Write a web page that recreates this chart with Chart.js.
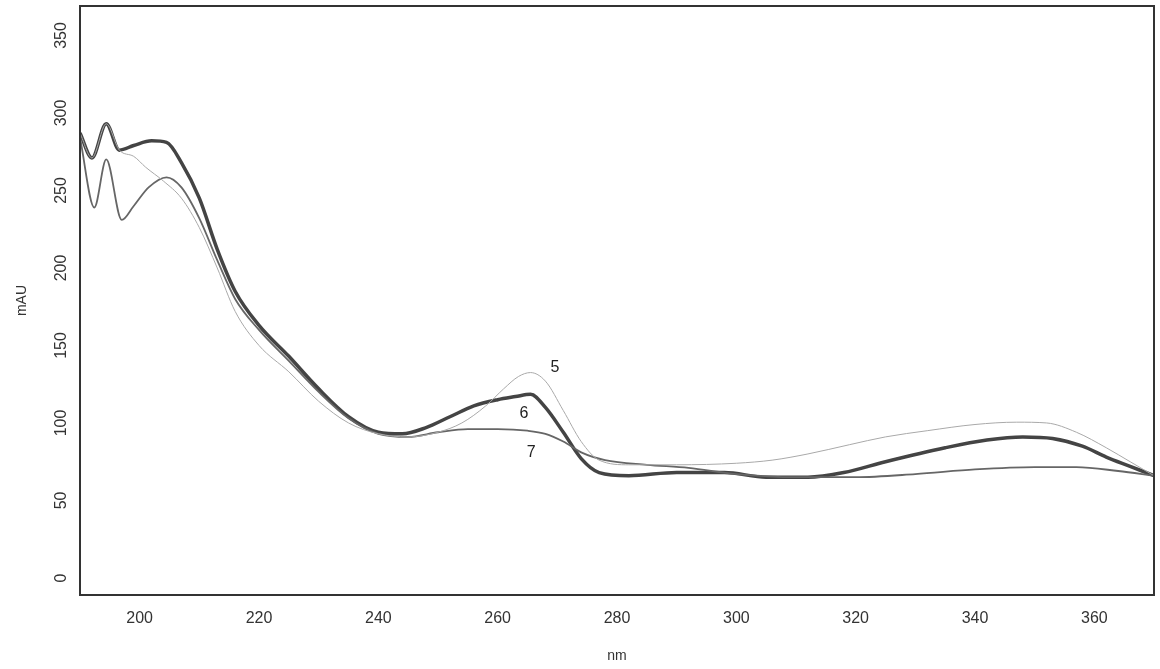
<!DOCTYPE html>
<html>
<head>
<meta charset="utf-8">
<script src="https://cdn.jsdelivr.net/npm/chart.js@4/dist/chart.umd.min.js"></script>
<style>
  body { margin: 0; background: #fff; }
  #wrap { width: 1160px; height: 669px; }
</style>
</head>
<body>
<div id="wrap"><canvas id="uvChart"></canvas></div>
<script>
// axis ticks
const xTicks = [200, 220, 240, 260, 280, 300, 320, 340, 360];
const yTicks = [0, 50, 100, 150, 200, 250, 300, 350];

// spectrum 5 (thin light line)
const wl5  = [190, 192, 194.4, 196.6, 199, 201, 204, 207, 210, 213, 216, 220, 225, 230, 235, 240, 245, 250, 254, 258, 261, 263.5, 265.5, 268, 271, 274, 277, 282, 290, 300, 306, 312, 319, 325, 332, 340, 347, 352, 357, 362, 366, 370];
const abs5 = [287, 271, 293, 276, 272, 265, 256, 245, 226, 200, 172, 150, 133, 114, 100, 93, 91, 94, 100, 111, 122, 130, 132.5, 127, 108, 88, 76, 73, 73, 74, 76, 80, 86, 91, 95, 99, 100.5, 100, 94, 84, 75, 66];

// spectrum 6 (thick dark line)
const wl6  = [190, 192, 194.4, 196.6, 199, 202, 204.5, 207, 210, 213, 216, 220, 225, 230, 235, 240, 244, 248, 252, 256, 260, 263, 265.5, 268, 271, 274, 277, 282, 290, 298, 305, 312, 318, 325, 335, 342, 348, 353, 358, 362, 366, 370];
const abs6 = [287, 271, 293, 276, 279, 282, 281, 268, 245, 212, 185, 163, 143, 122, 104, 94, 93, 97, 104, 111, 115, 117, 118.5, 110, 94, 77, 68, 66, 68, 68, 65, 65, 68, 75, 84, 89, 91, 90, 85, 78, 72, 66];

// spectrum 7 (medium line)
const wl7  = [190, 192.4, 194.4, 197, 199, 201.5, 204.5, 207, 210, 213, 216, 220, 225, 230, 235, 240, 245, 250, 255, 260, 265, 268, 271, 274, 278, 285, 292, 300, 310, 320, 330, 340, 350, 357, 364, 370];
const abs7 = [284, 239, 270, 231, 240, 252, 258.5, 252, 232, 205, 180, 160, 140, 120, 103, 93, 91, 94, 96, 96, 95, 93, 88, 81, 76, 73, 71, 67, 65, 65, 67, 70, 71.5, 71.5, 69, 66];

// curve numbers written next to the peaks
const tagText = ['5', '6', '7'];
const tagX = [269.6, 264.4, 265.6];
const tagY = [136, 106, 81];

function toPoints(xs, ys) {
    return xs.map((x, i) => ({ x: x, y: ys[i] }));
}

const frameAndTags = {
    id: 'frameAndTags',
    afterDraw(chart) {
        const c = chart.ctx;
        const a = chart.chartArea;
        c.save();
        c.strokeStyle = '#333';
        c.lineWidth = 2;
        c.strokeRect(a.left, a.top, a.right - a.left, a.bottom - a.top);
        c.fillStyle = '#222';
        c.font = '16px "Liberation Sans", Arial, sans-serif';
        c.textAlign = 'center';
        c.textBaseline = 'middle';
        for (let i = 0; i < tagText.length; i++) {
            const px = chart.scales.x.getPixelForValue(tagX[i]);
            const py = chart.scales.y.getPixelForValue(tagY[i]);
            c.fillText(tagText[i], px, py);
        }
        c.restore();
    }
};

const tickFont = { family: '"Liberation Sans", Arial, sans-serif', size: 16 };

new Chart(document.getElementById('uvChart').getContext('2d'), {
    type: 'line',
    data: {
        datasets: [
            {
                label: '5',
                data: toPoints(wl5, abs5),
                borderColor: '#a9a9a9',
                borderWidth: 1,
                cubicInterpolationMode: 'monotone'
            },
            {
                label: '7',
                data: toPoints(wl7, abs7),
                borderColor: '#666',
                borderWidth: 1.8,
                cubicInterpolationMode: 'monotone'
            },
            {
                label: '6',
                data: toPoints(wl6, abs6),
                borderColor: '#444',
                borderWidth: 3.5,
                cubicInterpolationMode: 'monotone'
            }
        ]
    },
    options: {
        responsive: true,
        maintainAspectRatio: false,
        animation: false,
        parsing: false,
        elements: { point: { radius: 0 } },
        layout: { padding: { top: 6, right: 6, left: 0, bottom: 0 } },
        plugins: {
            legend: { display: false },
            tooltip: { enabled: false }
        },
        scales: {
            x: {
                type: 'linear',
                min: 190,
                max: 370,
                afterBuildTicks: (scale) => { scale.ticks = xTicks.map(v => ({ value: v })); },
                afterFit: (scale) => {
                    scale.height = 74;
                    scale.paddingLeft = 0;
                    scale.paddingRight = 0;
                },
                grid: { display: false, drawTicks: false },
                border: { display: false },
                ticks: { color: '#333', font: tickFont, padding: 14, maxRotation: 0 },
                title: {
                    display: true,
                    text: 'nm',
                    color: '#333',
                    font: { family: '"Liberation Sans", Arial, sans-serif', size: 14 },
                    padding: { top: 0, bottom: 4 }
                }
            },
            y: {
                type: 'linear',
                min: -11,
                max: 369,
                afterBuildTicks: (scale) => { scale.ticks = yTicks.map(v => ({ value: v })); },
                afterFit: (scale) => {
                    scale.width = 80;
                    scale.paddingTop = 0;
                    scale.paddingBottom = 0;
                },
                grid: { display: false, drawTicks: false },
                border: { display: false },
                ticks: {
                    color: '#333',
                    font: tickFont,
                    padding: 5,
                    minRotation: 90,
                    maxRotation: 90,
                    crossAlign: 'center'
                },
                title: {
                    display: true,
                    text: 'mAU',
                    color: '#333',
                    font: { family: '"Liberation Sans", Arial, sans-serif', size: 14 },
                    padding: { top: 14, bottom: 0 }
                }
            }
        }
    },
    plugins: [frameAndTags]
});
</script>
</body>
</html>
